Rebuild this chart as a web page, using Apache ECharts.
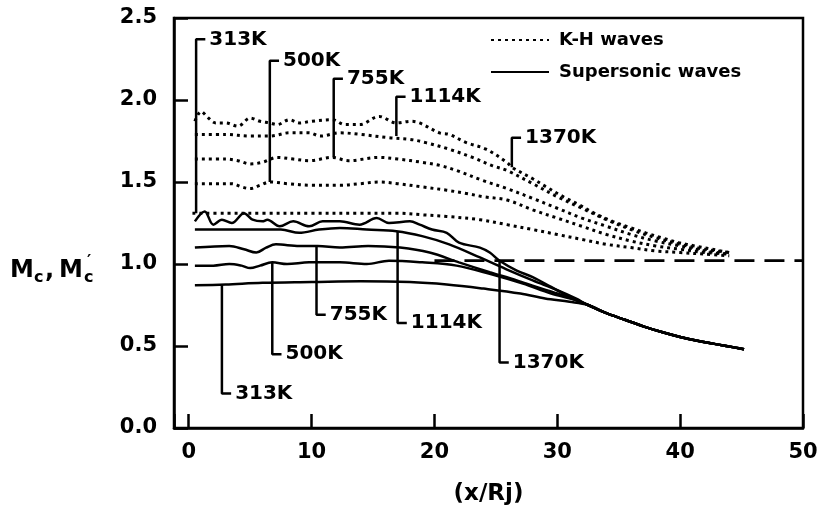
<!DOCTYPE html>
<html>
<head>
<meta charset="utf-8">
<script src="https://cdn.jsdelivr.net/npm/echarts@6/dist/echarts.min.js"></script>
<style>
  html, body { margin: 0; padding: 0; background: #fff; }
  #chart { width: 822px; height: 514px; }
</style>
</head>
<body>
<div id="chart"></div>
<script>
// Convective Mach number along the jet, [x/Rj, Mc]
// K-H waves (dotted), one curve per jet temperature
const kh313 = [[0.3,1.31],[3,1.31],[6,1.31],[10,1.31],[14,1.31],[17,1.31],[19,1.30],[21,1.29],[23.7,1.27],[25.9,1.24],[28,1.21],[30,1.18],[32,1.15],[34,1.12],[36,1.10],[38,1.08],[40,1.07],[42,1.06],[44,1.05]];
const kh500 = [[0.5,1.49],[2,1.49],[3.5,1.49],[4.3,1.47],[5,1.46],[5.8,1.48],[6.6,1.50],[8,1.49],[10,1.48],[12.3,1.48],[14,1.49],[15.5,1.50],[17,1.49],[19,1.47],[21,1.45],[22.6,1.43],[24,1.41],[25.9,1.39],[28,1.33],[30,1.28],[32,1.23],[34,1.18],[36,1.14],[38,1.11],[40,1.09],[42,1.07],[44,1.06]];
const kh755 = [[0.5,1.64],[3,1.64],[4,1.63],[5,1.61],[6,1.62],[7.2,1.65],[8.5,1.64],[9.8,1.63],[11.7,1.65],[13,1.63],[15.5,1.65],[17,1.64],[19,1.62],[20.5,1.60],[21.8,1.57],[23.9,1.51],[25.9,1.46],[28,1.40],[30,1.34],[32,1.28],[34,1.23],[36,1.18],[38,1.14],[40,1.11],[42,1.08],[44,1.06]];
const kh1114 = [[0.5,1.79],[3,1.79],[5,1.78],[6.6,1.78],[8.2,1.80],[9.8,1.80],[10.7,1.78],[12.3,1.80],[14,1.79],[16.3,1.77],[18,1.76],[19.3,1.74],[21.2,1.70],[23.1,1.65],[24.7,1.60],[25.9,1.57],[28,1.49],[30,1.41],[32,1.34],[34,1.27],[36,1.21],[38,1.16],[40,1.12],[42,1.09],[44,1.07]];
const kh1370 = [[0.5,1.87],[1,1.93],[1.6,1.89],[2.2,1.86],[3,1.86],[4,1.84],[5,1.89],[5.8,1.87],[6.6,1.86],[7.2,1.85],[8.2,1.88],[9,1.86],[10,1.87],[11.7,1.88],[12.7,1.85],[13.9,1.85],[15.5,1.90],[16.9,1.86],[18.1,1.87],[18.8,1.86],[20.4,1.80],[21.2,1.79],[22.6,1.74],[24.2,1.70],[25.9,1.62],[26.3,1.59],[28,1.52],[29.1,1.47],[30.5,1.41],[31.8,1.36],[33,1.31],[34.5,1.26],[36,1.22],[37.2,1.19],[38.5,1.16],[39.9,1.13],[41.2,1.11],[42.6,1.09],[44,1.07]];

// Supersonic waves (solid); all temperatures merge into one tail downstream
const ss313 = [[0.5,0.87],[3,0.875],[6,0.885],[10,0.89],[14,0.895],[18,0.89],[21,0.875],[24,0.85],[27,0.82],[29,0.79],[31,0.77]];
const ss500 = [[0.5,0.99],[2,0.99],[3.3,1.0],[4.3,0.99],[5,0.975],[5.8,0.99],[6.8,1.01],[8,1.0],[9.8,1.01],[12.3,1.01],[14.5,1.0],[16.3,1.02],[19,1.01],[21.8,0.99],[24.5,0.94],[27.2,0.88],[29.5,0.82],[31.5,0.78]];
const ss755 = [[0.5,1.10],[3.3,1.11],[4.5,1.09],[5.5,1.07],[6.3,1.10],[7.1,1.12],[9,1.11],[10.5,1.11],[12.3,1.10],[14.6,1.11],[17.2,1.10],[19.6,1.07],[22,1.01],[24.5,0.95],[26.7,0.90],[28.3,0.86],[30,0.82],[31.5,0.78]];
const ss1114 = [[0.5,1.21],[3,1.21],[6,1.21],[7.5,1.21],[9,1.19],[10.6,1.21],[12.3,1.22],[14.5,1.21],[16.9,1.20],[19,1.17],[21.2,1.12],[23.7,1.04],[26.1,0.96],[28,0.90],[30,0.84],[31.5,0.79]];
const ss1370 = [[0.5,1.26],[1.3,1.32],[2,1.24],[2.7,1.27],[3.5,1.25],[4.5,1.31],[5.2,1.27],[6,1.26],[6.4,1.27],[7.4,1.23],[8.5,1.26],[9.8,1.23],[10.9,1.26],[12.3,1.26],[13.9,1.24],[15.3,1.28],[16.3,1.25],[18,1.26],[18.8,1.24],[19.8,1.21],[21,1.19],[22,1.13],[23.7,1.10],[24.5,1.07],[25.3,1.02],[26.7,0.96],[28,0.92],[29.5,0.86],[31,0.80]];
const ssTail = [[32.5,0.75],[34,0.70],[35.5,0.66],[37,0.62],[38.5,0.585],[40,0.555],[41.5,0.53],[43,0.51],[44.5,0.49],[45.2,0.48]];

// Reference level (dashed)
const refLevel = [[20,1.02],[50,1.02]];

// Temperature tags: [text, x, value on curve, end of leader]
const khTags = [['313K',0.6,1.31,2.37],['500K',6.6,1.50,2.24],['755K',11.8,1.65,2.13],['1114K',16.9,1.78,2.02],['1370K',26.3,1.59,1.77]];
const ssTags = [['313K',2.7,0.875,0.21],['500K',6.8,1.01,0.45],['755K',10.4,1.11,0.69],['1114K',17,1.20,0.64],['1370K',25.3,1.02,0.40]];

const xTicks = [0,10,20,30,40,50];

const FONT = '"DejaVu Sans", "Liberation Sans", Arial, sans-serif';
const INK = '#000';
const KH = 'K-H waves';
const SS = 'Supersonic waves';

function dotted(data) {
  return { type: 'line', name: KH, data, symbol: 'none', smooth: 0.35, silent: true,
    itemStyle: { color: INK },
    lineStyle: { color: INK, width: 3, type: [3, 4] } };
}
function solid(data) {
  return { type: 'line', name: SS, data: data.concat(ssTail), symbol: 'none', smooth: 0.35, silent: true,
    itemStyle: { color: INK },
    lineStyle: { color: INK, width: 2.5, type: 'solid' } };
}
function tag(t, prefix) {
  const [text, x, yc, ye] = t;
  return { type: 'line', name: prefix + text, data: [[x, yc], [x, ye], [x + 0.75, ye]],
    symbol: 'none', silent: true, itemStyle: { color: INK }, lineStyle: { color: INK, width: 2.5 },
    endLabel: { show: true, formatter: text, color: INK, fontFamily: FONT, fontSize: 20,
      fontWeight: 'bold', distance: 4 } };
}

const series = [
  dotted(kh313), dotted(kh500), dotted(kh755), dotted(kh1114), dotted(kh1370),
  solid(ss313), solid(ss500), solid(ss755), solid(ss1114), solid(ss1370),
  { type: 'line', name: 'reference', data: refLevel, symbol: 'none', silent: true,
    itemStyle: { color: INK }, lineStyle: { color: INK, width: 2.8, type: [20, 10] } }
].concat(khTags.map(t => tag(t, 'KH ')), ssTags.map(t => tag(t, 'SS ')));

const tickStyle = { show: true, inside: true, length: 14, lineStyle: { color: INK, width: 2.5 } };

const chart = echarts.init(document.getElementById('chart'));
chart.setOption({
  animation: false,
  backgroundColor: '#fff',
  grid: { left: 174, right: 19, top: 18, bottom: 86, show: true, borderColor: INK, borderWidth: 2.5 },
  legend: {
    data: [KH, SS], orient: 'vertical', left: 490, top: 31, padding: 0,
    itemWidth: 58, itemHeight: 14, itemGap: 14, selectedMode: false,
    itemStyle: { opacity: 0 },
    textStyle: { color: INK, fontFamily: FONT, fontSize: 18, fontWeight: 'bold', padding: [0, 0, 0, 5] }
  },
  xAxis: {
    type: 'value', min: -1.2, max: 50, splitNumber: 5,
    axisLine: { show: true, onZero: false, lineStyle: { color: INK, width: 2.5 } },
    axisTick: tickStyle,
    splitLine: { show: false },
    axisLabel: { color: INK, fontFamily: FONT, fontSize: 21, fontWeight: 'bold', margin: 14,
      formatter: v => (xTicks.indexOf(Math.round(v * 1000) / 1000) >= 0 ? String(v) : '') },
    name: '(x/Rj)', nameLocation: 'middle', nameGap: 55,
    nameTextStyle: { color: INK, fontFamily: FONT, fontSize: 23, fontWeight: 'bold' }
  },
  yAxis: {
    type: 'value', min: 0, max: 2.5, interval: 0.5,
    axisLine: { show: true, onZero: false, lineStyle: { color: INK, width: 2.5 } },
    axisTick: tickStyle,
    splitLine: { show: false },
    axisLabel: { color: INK, fontFamily: FONT, fontSize: 21, fontWeight: 'bold', margin: 17,
      formatter: v => v.toFixed(1) }
  },
  graphic: [
    { type: 'group', left: 10, top: 254, children: [
      { type: 'text', x: 0, y: 0, style: { text: 'M', font: 'bold 24px ' + FONT, fill: INK } },
      { type: 'text', x: 24, y: 11, style: { text: 'c', font: 'bold 16px ' + FONT, fill: INK } },
      { type: 'text', x: 35, y: 0, style: { text: ',', font: 'bold 24px ' + FONT, fill: INK } },
      { type: 'text', x: 49, y: 0, style: { text: 'M', font: 'bold 24px ' + FONT, fill: INK } },
      { type: 'text', x: 74, y: 11, style: { text: 'c', font: 'bold 16px ' + FONT, fill: INK } },
      { type: 'text', x: 77, y: -5, style: { text: '\u2032', font: 'bold 16px ' + FONT, fill: INK } }
    ] }
  ],
  series
});
</script>
</body>
</html>
